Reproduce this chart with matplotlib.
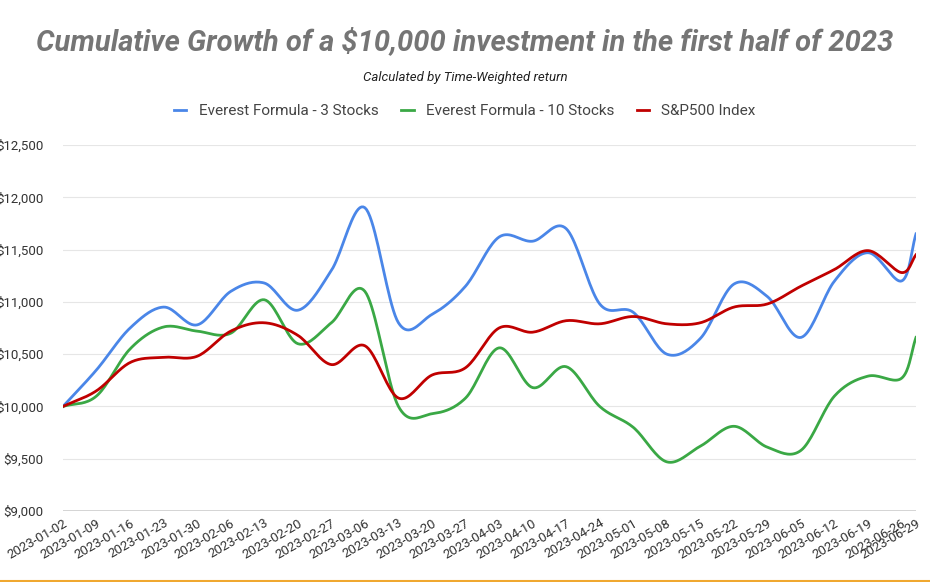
import numpy as np
import matplotlib.pyplot as plt
import matplotlib.dates as mdates
from matplotlib.ticker import FuncFormatter

dates = ["2023-01-02", "2023-01-09", "2023-01-16", "2023-01-23", "2023-01-30",
         "2023-02-06", "2023-02-13", "2023-02-20", "2023-02-27", "2023-03-06",
         "2023-03-13", "2023-03-20", "2023-03-27", "2023-04-03", "2023-04-10",
         "2023-04-17", "2023-04-24", "2023-05-01", "2023-05-08", "2023-05-15",
         "2023-05-22", "2023-05-29", "2023-06-05", "2023-06-12", "2023-06-19",
         "2023-06-26", "2023-06-29"]
three_stocks = [10000, 10350, 10750, 10950, 10780, 11100, 11180, 10920, 11300, 11900,
                10800, 10880, 11150, 11620, 11580, 11700, 10980, 10900, 10500, 10650,
                11170, 11050, 10660, 11200, 11470, 11200, 11650]
ten_stocks = [10000, 10100, 10550, 10760, 10720, 10700, 11020, 10600, 10800, 11100,
              10000, 9930, 10080, 10560, 10180, 10380, 10000, 9800, 9470, 9620,
              9810, 9610, 9580, 10100, 10290, 10270, 10660]
sp500 = [10000, 10150, 10420, 10470, 10480, 10720, 10800, 10680, 10400, 10580,
         10080, 10300, 10370, 10750, 10710, 10820, 10790, 10860, 10790, 10800,
         10950, 10980, 11150, 11310, 11490, 11280, 11450]

x = mdates.datestr2num(dates)


def smooth(xs, ys, n=20):
    # Catmull-Rom spline through the points
    xs = np.asarray(xs, float); ys = np.asarray(ys, float)
    px = np.concatenate([[2 * xs[0] - xs[1]], xs, [2 * xs[-1] - xs[-2]]])
    py = np.concatenate([[2 * ys[0] - ys[1]], ys, [2 * ys[-1] - ys[-2]]])
    ox, oy = [], []
    t = np.linspace(0, 1, n, endpoint=False)
    for i in range(1, len(px) - 2):
        for P, out in ((px, ox), (py, oy)):
            p0, p1, p2, p3 = P[i - 1], P[i], P[i + 1], P[i + 2]
            out.extend(0.5 * ((2 * p1) + (-p0 + p2) * t
                              + (2 * p0 - 5 * p1 + 4 * p2 - p3) * t ** 2
                              + (-p0 + 3 * p1 - 3 * p2 + p3) * t ** 3))
    ox.append(xs[-1]); oy.append(ys[-1])
    return np.array(ox), np.array(oy)


plt.rcParams['font.family'] = ['Roboto', 'DejaVu Sans']
fig = plt.figure(figsize=(9.3, 5.82), dpi=100)
ax = fig.add_axes([63 / 930, 1 - 511 / 582, 853 / 930, 366 / 582])

series = [("Everest Formula - 3 Stocks", three_stocks, "#4a86e8"),
          ("Everest Formula - 10 Stocks", ten_stocks, "#3aa845"),
          ("S&P500 Index", sp500, "#c00000")]
for label, ys, col in series:
    sx, sy = smooth(x, ys)
    ax.plot(sx, sy, color=col, lw=2, label=label)

ax.set_ylim(9000, 12500)
ax.set_yticks(np.arange(9000, 12501, 500))
ax.yaxis.set_major_formatter(FuncFormatter(lambda v, p: f"${v:,.0f}"))
ax.set_xlim(x[0], x[-1])
ax.set_xticks(x)
ax.set_xticklabels(dates, rotation=30, ha='right', rotation_mode='anchor', fontsize=9.5, color='#333333')
ax.tick_params(axis='y', labelsize=9.5, colors='#333333', length=0, pad=14)
ax.tick_params(axis='x', length=0, pad=4)
ax.grid(axis='y', color='#e6e6e6', lw=0.8)
for s in ax.spines.values():
    s.set_visible(False)
ax.axhline(9000, color='#333333', lw=1)

fig.text(0.5, 1 - 42 / 582, "Cumulative Growth of a $10,000 investment in the first half of 2023",
         ha='center', va='center', fontsize=21, fontweight='bold', style='italic', color='#757575')
fig.text(0.5, 1 - 77 / 582, "Calculated by Time-Weighted return", ha='center', va='center',
         fontsize=9.5, style='italic', color='#222222')
fig.legend(loc='center', bbox_to_anchor=(0.5, 1 - 111 / 582), ncol=3, frameon=False,
           fontsize=11, handlelength=0.8, columnspacing=1.5, labelcolor='#444444')
fig.add_artist(plt.Line2D([0, 1], [1 / 582, 1 / 582], color='#f0a830', lw=1.5))

fig.savefig("out.png", dpi=100)
